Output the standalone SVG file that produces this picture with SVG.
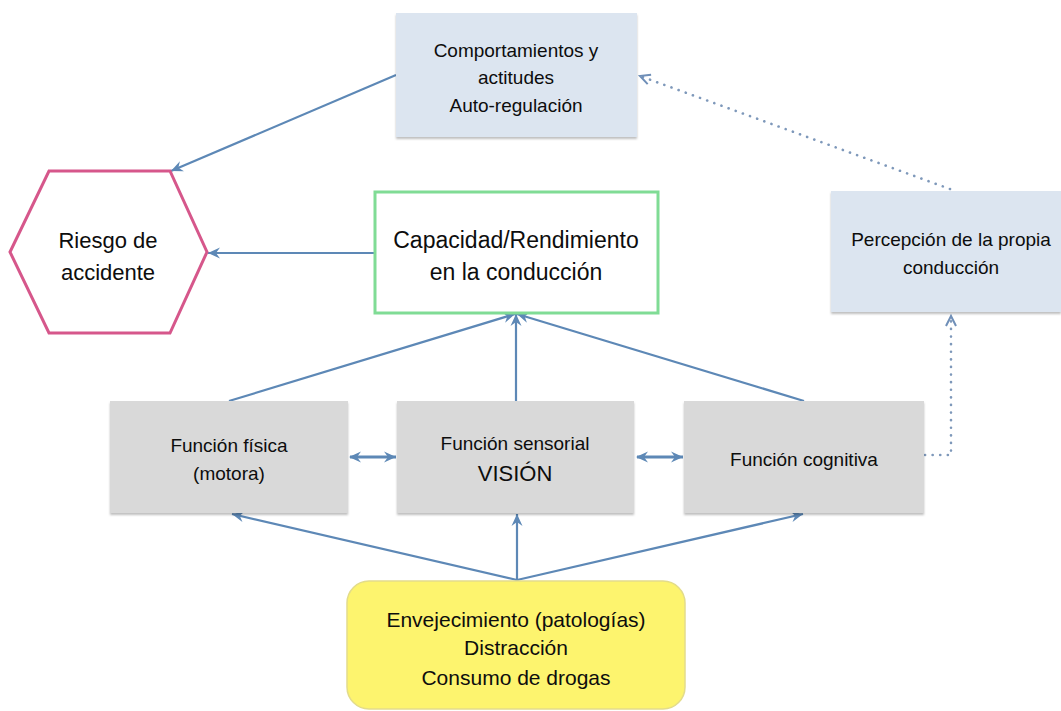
<svg xmlns="http://www.w3.org/2000/svg" width="1061" height="711" viewBox="0 0 1061 711">
<style>
text{font-family:"Liberation Sans",Arial,sans-serif;fill:#0d0d0d;text-anchor:middle}
.blue{fill:#dce5f0}
.gray{fill:#d9d9d9}
.conn{stroke:#5d88b6;stroke-width:2.2;fill:none}
.thick{stroke-width:3}
.dot{stroke:#7e98ba;stroke-width:2.6;fill:none;stroke-dasharray:0.1 7.5;stroke-linecap:round}
.t19{font-size:19px}
.t22{font-size:22px}
.t23{font-size:23px}
.t21{font-size:21px}
</style>
<defs>
<filter id="sh" x="-5%" y="-5%" width="110%" height="115%">
<feDropShadow dx="0" dy="2" stdDeviation="1" flood-color="#000" flood-opacity="0.25"/>
</filter>
<marker id="ah" markerWidth="14" markerHeight="12" refX="12" refY="6" orient="auto" markerUnits="userSpaceOnUse">
<path d="M0,0.5 L12,6 L0,11.5 L4,6 z" fill="#5d88b6"/>
</marker>
<marker id="ahs" markerWidth="14" markerHeight="12" refX="1" refY="6" orient="auto" markerUnits="userSpaceOnUse">
<path d="M12,0.5 L0,6 L12,11.5 L8,6 z" fill="#5d88b6"/>
</marker>
<marker id="ad" markerWidth="14" markerHeight="12" refX="11" refY="6" orient="auto" markerUnits="userSpaceOnUse">
<path d="M1,1 L11,6 L1,11" fill="none" stroke="#6f8fb8" stroke-width="2"/>
</marker>
</defs>
<rect width="1061" height="711" fill="#fff"/>

<g id="connectors">
<line class="conn" x1="396" y1="75" x2="171" y2="171" marker-end="url(#ah)"/>
<line class="conn" x1="374" y1="253" x2="208" y2="253" marker-end="url(#ah)"/>
<line class="conn" x1="229" y1="401" x2="515" y2="314" marker-end="url(#ah)"/>
<line class="conn" x1="516" y1="401" x2="516" y2="314" marker-end="url(#ah)"/>
<line class="conn" x1="804" y1="401" x2="517" y2="314" marker-end="url(#ah)"/>
<line class="conn thick" x1="350" y1="457" x2="396" y2="457" marker-start="url(#ahs)" marker-end="url(#ah)"/>
<line class="conn thick" x1="637" y1="457" x2="683" y2="457" marker-start="url(#ahs)" marker-end="url(#ah)"/>
<line class="conn" x1="517" y1="580" x2="232" y2="514" marker-end="url(#ah)"/>
<line class="conn" x1="517" y1="580" x2="517" y2="514" marker-end="url(#ah)"/>
<line class="conn" x1="517" y1="580" x2="803" y2="514" marker-end="url(#ah)"/>
<path class="dot" d="M925,455 L951,455 L951,316" marker-end="url(#ad)"/>
<path class="dot" d="M950,189 L640,76" marker-end="url(#ad)"/>
</g>

<g id="comportamientos">
<rect class="blue" x="396" y="13" width="241" height="124" filter="url(#sh)"/>
<text class="t19" x="516" y="57">Comportamientos y</text>
<text class="t19" x="516" y="84">actitudes</text>
<text class="t19" x="516" y="112">Auto-regulación</text>
</g>

<g id="riesgo">
<polygon points="10,252 49,171 170,171 207,252 170,333 49,333" fill="#fff" stroke="#d6578b" stroke-width="3"/>
<text class="t22" x="108" y="248">Riesgo de</text>
<text class="t22" x="108" y="280">accidente</text>
</g>

<g id="capacidad">
<rect x="375" y="192" width="283" height="121" fill="#fff" stroke="#80dc95" stroke-width="3"/>
<text class="t23" x="516" y="248">Capacidad/Rendimiento</text>
<text class="t23" x="516" y="280">en la conducción</text>
</g>

<g id="percepcion">
<rect class="blue" x="831" y="191" width="230" height="121" filter="url(#sh)"/>
<text class="t19" x="951" y="246">Percepción de la propia</text>
<text class="t19" x="951" y="274">conducción</text>
</g>

<g id="fisica">
<rect class="gray" x="110" y="401" width="238" height="112" filter="url(#sh)"/>
<text class="t19" x="229" y="452">Función física</text>
<text class="t19" x="229" y="480">(motora)</text>
</g>

<g id="sensorial">
<rect class="gray" x="397" y="401" width="237" height="112" filter="url(#sh)"/>
<text class="t19" x="515" y="450">Función sensorial</text>
<text class="t22" x="515" y="481">VISIÓN</text>
</g>

<g id="cognitiva">
<rect class="gray" x="684" y="401" width="240" height="112" filter="url(#sh)"/>
<text class="t19" x="804" y="466">Función cognitiva</text>
</g>

<g id="factores">
<rect x="347" y="581" width="338" height="128" rx="22" fill="#fdf46e" stroke="#e3dc8a" stroke-width="1.5"/>
<text class="t21" x="516" y="627">Envejecimiento (patologías)</text>
<text class="t21" x="516" y="655">Distracción</text>
<text class="t21" x="516" y="685">Consumo de drogas</text>
</g>
</svg>
